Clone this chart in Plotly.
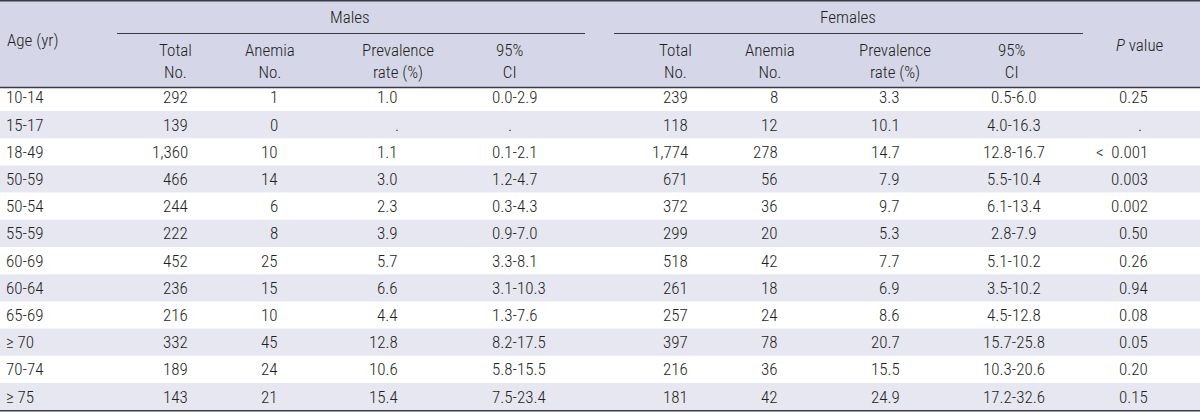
import plotly.graph_objects as go

# ---- data ----
age_groups = ["10-14", "15-17", "18-49", "50-59", "50-54", "55-59",
              "60-69", "60-64", "65-69", "\u2265 70", "70-74", "\u2265 75"]
male_total = [292, 139, 1360, 466, 244, 222, 452, 236, 216, 332, 189, 143]
male_anemia = [1, 0, 10, 14, 6, 8, 25, 15, 10, 45, 24, 21]
male_prev = [1.0, None, 1.1, 3.0, 2.3, 3.9, 5.7, 6.6, 4.4, 12.8, 10.6, 15.4]
male_ci = ["0.0-2.9", ".", "0.1-2.1", "1.2-4.7", "0.3-4.3", "0.9-7.0",
           "3.3-8.1", "3.1-10.3", "1.3-7.6", "8.2-17.5", "5.8-15.5", "7.5-23.4"]
female_total = [239, 118, 1774, 671, 372, 299, 518, 261, 257, 397, 216, 181]
female_anemia = [8, 12, 278, 56, 36, 20, 42, 18, 24, 78, 36, 42]
female_prev = [3.3, 10.1, 14.7, 7.9, 9.7, 5.3, 7.7, 6.9, 8.6, 20.7, 15.5, 24.9]
female_ci = ["0.5-6.0", "4.0-16.3", "12.8-16.7", "5.5-10.4", "6.1-13.4", "2.8-7.9",
             "5.1-10.2", "3.5-10.2", "4.5-12.8", "15.7-25.8", "10.3-20.6", "17.2-32.6"]
p_values = ["0.25", ".", "<\u20020.001", "0.003", "0.002", "0.50",
            "0.26", "0.94", "0.08", "0.05", "0.20", "0.15"]

group_labels = ["Males", "Females"]
sub_headers = ["Total<br>No.", "Anemia<br>No.", "Prevalence<br>rate (%)", "95%<br>CI"]

# ---- style / layout ----
W, H = 1200, 412
FONT = "Roboto Condensed, Liberation Sans, Arial, sans-serif"
FS = 17
TXT = "#231f20"
LINE = "#3a3a46"
HEAD_BG = "#d6d6e9"
STRIPE = "#e7e7f2"

HEAD_Y = 87.5
ROW_H = 27.2
LAST_CENTER = 396.6
N = len(age_groups)

def row_center(i):
    return LAST_CENTER - ROW_H * (N - 1 - i)

fig = go.Figure()
fig.add_trace(go.Scatter(x=[0, W], y=[0, H], mode="markers",
                         marker=dict(opacity=0), hoverinfo="skip", showlegend=False))

shapes = []
shapes.append(dict(type="rect", xref="x", yref="y", x0=0, x1=W, y0=0, y1=HEAD_Y,
                   fillcolor=HEAD_BG, line_width=0, layer="below"))
for i in range(N):
    if i % 2 == 1:
        c = row_center(i)
        shapes.append(dict(type="rect", xref="x", yref="y", x0=0, x1=W,
                           y0=c - ROW_H / 2, y1=c + ROW_H / 2,
                           fillcolor=STRIPE, line_width=0, layer="below"))
shapes.append(dict(type="line", xref="x", yref="y", x0=0, x1=W, y0=0.8, y1=0.8,
                   line=dict(color=LINE, width=1.6)))
shapes.append(dict(type="line", xref="x", yref="y", x0=0, x1=W, y0=HEAD_Y, y1=HEAD_Y,
                   line=dict(color=LINE, width=1.6)))
shapes.append(dict(type="line", xref="x", yref="y", x0=0, x1=W, y0=410.8, y1=410.8,
                   line=dict(color=LINE, width=1.6)))
group_spans = [(117, 585), (614, 1083)]
for (a, b) in group_spans:
    shapes.append(dict(type="line", xref="x", yref="y", x0=a, x1=b, y0=33.5, y1=33.5,
                       line=dict(color=LINE, width=1.2)))

ann = []
def text(x, y, s, anchor="center"):
    ann.append(dict(x=x, y=y, xref="x", yref="y", text=s, showarrow=False,
                    xanchor=anchor, yanchor="middle",
                    font=dict(family=FONT, size=FS, color=TXT, weight=300)))

text(5, 40, "Age (yr)", "left")
text(350, 17, group_labels[0])
text(848, 17, group_labels[1])
text(1140, 45, "<i>P</i> value")
male_head_x = [175, 270, 398, 510]
female_head_x = [675, 770, 895, 1012]
for s, xm, xf in zip(sub_headers, male_head_x, female_head_x):
    text(xm, 61, s)
    text(xf, 61, s)

def fmt_int(v):
    return f"{v:,}"

def fmt_prev(v):
    return f"{v:.1f}"

for i in range(N):
    y = row_center(i)
    text(4, y, age_groups[i], "left")
    text(190, y, fmt_int(male_total[i]), "right")
    text(280, y, fmt_int(male_anemia[i]), "right")
    if male_prev[i] is None:
        text(397, y, ".")
    else:
        text(400, y, fmt_prev(male_prev[i]), "right")
    if male_ci[i] == ".":
        text(510, y, ".")
    else:
        text(490, y, male_ci[i], "left")
    text(690, y, fmt_int(female_total[i]), "right")
    text(780, y, fmt_int(female_anemia[i]), "right")
    text(902, y, fmt_prev(female_prev[i]), "right")
    text(1014, y, female_ci[i], "center")
    if p_values[i] == ".":
        text(1140, y, ".")
    else:
        text(1150, y, p_values[i], "right")

fig.update_layout(
    width=W, height=H, margin=dict(l=0, r=0, t=0, b=0),
    paper_bgcolor="white", plot_bgcolor="white",
    xaxis=dict(range=[0, W], visible=False, fixedrange=True),
    yaxis=dict(range=[H, 0], visible=False, fixedrange=True),
    shapes=shapes, annotations=ann, showlegend=False,
)
fig.write_html("out.html", config={"displayModeBar": False},
               post_script="document.body.style.margin='0';document.body.style.overflow='hidden';")
